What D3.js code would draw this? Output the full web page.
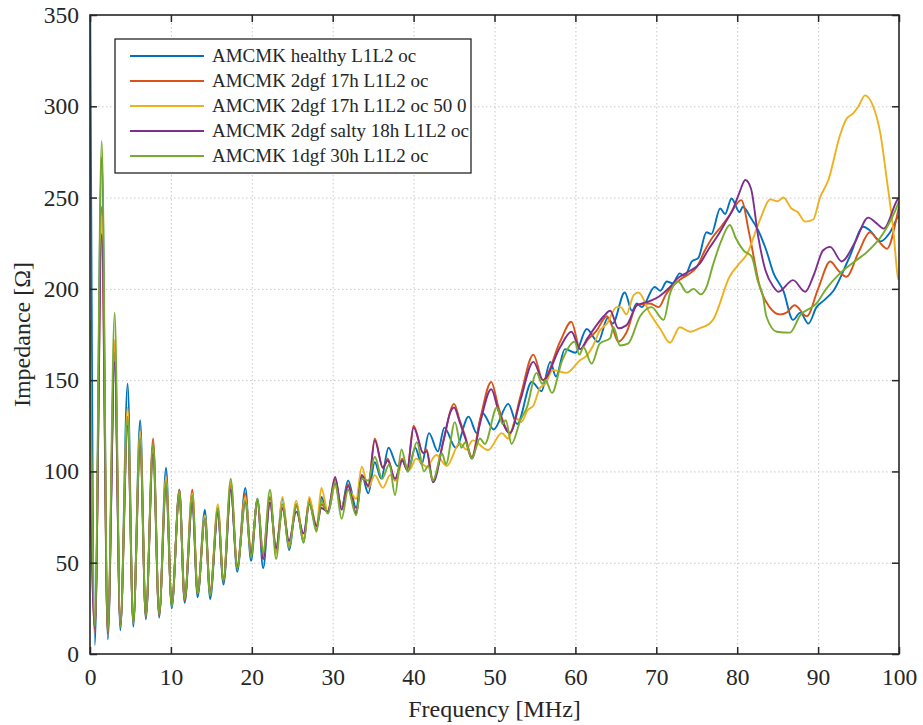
<!DOCTYPE html>
<html>
<head>
<meta charset="utf-8">
<script src="https://cdn.jsdelivr.net/npm/d3@7"></script>
<style>
  body { margin: 0; background: #fff; }
  svg text { font-family: "Liberation Serif", "Times New Roman", serif; fill: #262626; }
</style>
</head>
<body>
<div id="viz"></div>
<script>
const width = 923;
const height = 725;
const marginLeft = 90;
const marginRight = 24;
const marginTop = 15;
const marginBottom = 71;

// axis ticks
const xTicks = [0, 10, 20, 30, 40, 50, 60, 70, 80, 90, 100];
const yTicks = [0, 50, 100, 150, 200, 250, 300, 350];

const seriesNames = [
  'AMCMK healthy L1L2 oc',
  'AMCMK 2dgf 17h L1L2 oc',
  'AMCMK 2dgf 17h L1L2 oc 50 0',
  'AMCMK 2dgf salty 18h L1L2 oc',
  'AMCMK 1dgf 30h L1L2 oc',
];
const seriesColors = ['#0072BD', '#D95319', '#EDB120', '#7E2F8E', '#77AC30'];

// [frequency MHz, impedance Ohm] (peaks and dips)
const healthy = [
  [0, 380], [0.6, 5], [1.45, 272], [2.2, 8], [3.05, 165], [3.75, 13], [4.65, 148], [5.35, 15],
  [6.2, 128], [6.9, 19], [7.8, 115], [8.55, 20], [9.4, 102], [10.1, 25], [11.05, 90], [11.7, 28],
  [12.65, 85], [13.3, 31], [14.2, 79], [14.85, 30], [15.8, 78], [16.5, 38], [17.4, 92], [18.2, 45],
  [19.2, 91], [19.9, 51], [20.7, 85], [21.4, 47], [22.25, 85], [23.0, 56], [23.8, 85], [24.6, 57],
  [25.5, 82], [26.4, 61], [27.1, 85], [28.0, 68], [28.6, 86], [29.4, 77], [30.3, 93], [31.1, 80],
  [31.9, 95], [32.9, 80], [33.6, 98], [34.4, 88], [35.2, 105], [36.0, 96], [36.9, 113], [38.0, 103],
  [38.6, 106], [39.3, 100], [40.2, 113], [41.0, 104], [41.9, 121], [43.0, 111], [43.8, 124], [45.2, 113],
  [46.8, 130], [47.8, 121], [48.5, 132], [49.9, 123], [51.7, 137], [52.8, 126], [54.6, 149], [55.8, 144],
  [56.9, 160], [57.6, 152], [58.7, 167], [60.0, 165], [61.4, 178], [62.8, 171], [64.0, 184], [64.6, 181],
  [66.1, 198], [67.0, 188], [67.6, 192], [68.2, 190], [69.8, 201], [70.5, 199], [71.3, 204], [72.0, 203],
  [72.9, 208.5], [73.5, 207], [74.4, 215], [75.2, 217], [76.2, 231], [76.8, 230], [77.9, 244], [78.5, 241],
  [79.3, 249.5], [80.3, 242], [80.7, 245], [81.6, 239.5], [82.6, 232], [83.6, 221], [84.5, 208.5], [85.7, 199],
  [86.9, 183], [87.8, 187], [88.8, 181], [89.8, 190], [90.8, 194], [91.9, 199], [93.9, 217.6], [95.6, 234],
  [96.4, 232], [97.7, 226], [98.9, 231], [99.9, 239.5], [100, 240],
];

const dgf17h = [
  [0, 120], [0.6, 12], [1.45, 245], [2.2, 12], [3.05, 170], [3.75, 15], [4.65, 130], [5.35, 17],
  [6.2, 118], [6.9, 20], [7.8, 118], [8.55, 21], [9.4, 95], [10.1, 27], [11.05, 90], [11.7, 29],
  [12.65, 90], [13.3, 33], [14.2, 75], [14.85, 33], [15.8, 79], [16.5, 40], [17.4, 92], [18.2, 47],
  [19.2, 88], [19.9, 55], [20.7, 84], [21.4, 55], [22.25, 86], [23.0, 57], [23.8, 80], [24.6, 60],
  [25.5, 81], [26.4, 63], [27.1, 84], [28.0, 70], [28.6, 82], [29.4, 78], [30.3, 96], [31.1, 80],
  [31.9, 93], [32.9, 77], [33.6, 97], [34.4, 92], [35.2, 118], [36.2, 102], [36.8, 107], [37.7, 95],
  [38.6, 107], [39.2, 101], [40.0, 125], [41.2, 110], [41.6, 112], [42.4, 95], [43.7, 117], [45.0, 137],
  [45.7, 128], [46.4, 119], [47.2, 108], [48.2, 128], [49.6, 149], [50.5, 135], [51.9, 121], [53.2, 141],
  [54.8, 164], [56.0, 150], [58.1, 171], [59.5, 182], [60.6, 167], [61.5, 172], [62.6, 177], [63.9, 185],
  [64.5, 180], [65.3, 171], [66.3, 176], [67.6, 191], [69.2, 192], [70.3, 190], [71.2, 197], [72.9, 205],
  [74.0, 208], [75.0, 212], [76.0, 221], [77.0, 228.5], [78.0, 234], [79.0, 240], [80.5, 248.6], [81.5, 230],
  [82.8, 201], [84.0, 190], [85.3, 186], [86.1, 187], [87.1, 191], [88.6, 185], [90.0, 200], [91.5, 215],
  [92.5, 210], [93.5, 206.6], [95.0, 220], [96.4, 231], [97.5, 226], [98.5, 222], [99.9, 243], [100, 245],
];

const dgf17h50 = [
  [0, 160], [0.6, 15], [1.45, 240], [2.2, 10], [3.05, 172], [3.75, 17], [4.65, 135], [5.35, 18],
  [6.2, 122], [6.9, 22], [7.8, 112], [8.55, 22], [9.4, 97], [10.1, 28], [11.05, 88], [11.7, 31],
  [12.65, 88], [13.3, 35], [14.2, 76], [14.85, 34], [15.8, 82], [16.5, 41], [17.4, 94], [18.2, 48],
  [19.2, 86], [19.9, 57], [20.7, 84], [21.4, 52], [22.25, 84], [23.0, 55], [23.8, 86], [24.6, 59],
  [25.5, 84], [26.4, 62], [27.1, 86], [28.0, 69], [28.6, 91], [29.4, 78], [30.3, 92], [31.1, 80],
  [31.9, 90], [32.9, 85], [33.6, 102.6], [34.4, 91], [35.2, 98], [36.2, 91], [37.1, 98], [37.9, 95],
  [38.6, 106], [39.5, 101], [40.3, 107], [41.6, 102.6], [42.8, 109], [44.1, 103], [45.7, 115.5], [46.5, 112],
  [47.3, 117], [49.2, 111.7], [50.9, 121], [51.7, 118], [52.7, 129], [53.3, 127], [54.1, 133.6], [54.8, 136],
  [55.6, 145.6], [56.3, 148], [57.2, 155.5], [58.9, 154], [60.6, 161], [61.3, 163], [62.2, 169], [63.0, 177],
  [63.9, 181], [65.1, 190], [65.6, 190], [66.3, 186], [67.2, 196.6], [67.8, 198], [69.2, 186.6], [70.5, 178],
  [71.7, 170.5], [72.9, 179], [74.2, 176.5], [75.4, 178.5], [76.6, 181], [77.0, 183], [79.1, 207], [80.1, 213],
  [81.2, 219], [82.8, 237.7], [84.1, 249], [85.0, 248], [85.7, 250], [86.7, 244], [87.5, 242], [88.4, 236.8],
  [89.4, 238], [90.2, 249.5], [91.3, 260], [92.7, 284], [93.5, 293], [94.3, 296], [95.0, 300], [95.8, 306],
  [96.8, 300], [97.7, 285], [98.5, 259.6], [99.3, 232], [99.9, 205.7], [100, 205],
];

const dgfSalty = [
  [0, 100], [0.6, 14], [1.45, 230], [2.2, 11], [3.05, 160], [3.75, 16], [4.65, 125], [5.35, 18],
  [6.2, 115], [6.9, 21], [7.8, 110], [8.55, 22], [9.4, 92], [10.1, 27], [11.05, 88], [11.7, 30],
  [12.65, 83], [13.3, 33], [14.2, 74], [14.85, 33], [15.8, 77], [16.5, 40], [17.4, 90], [18.2, 48],
  [19.2, 83], [19.9, 55], [20.7, 84], [21.4, 52], [22.25, 83], [23.0, 58], [23.8, 80], [24.6, 62],
  [25.5, 78], [26.4, 66], [27.1, 82], [28.0, 70], [28.6, 80], [29.4, 78], [30.3, 97], [31.1, 79],
  [31.9, 92], [32.9, 77], [33.6, 98], [34.4, 92], [35.2, 117], [36.2, 102], [36.8, 106], [37.7, 96],
  [38.6, 106], [39.2, 101], [40.0, 124], [41.2, 110], [41.6, 111], [42.4, 94], [43.7, 117], [44.5, 132],
  [45.0, 135], [45.7, 127], [46.4, 118], [47.2, 107], [48.2, 126], [49.6, 145], [50.5, 133], [51.9, 121],
  [53.2, 139], [54.8, 160], [56.0, 150], [58.1, 168], [59.5, 176.5], [60.6, 167], [61.5, 173], [62.6, 180],
  [63.5, 185], [64.3, 188], [65.3, 178.4], [66.3, 180], [67.6, 191], [69.0, 193], [70.3, 195.7], [71.7, 201],
  [72.7, 206], [73.8, 209], [75.4, 214], [76.5, 222], [77.5, 228.5], [78.5, 236], [79.5, 244], [80.3, 253],
  [81.0, 259.6], [81.7, 255], [82.6, 228.5], [83.5, 210], [84.5, 201], [85.1, 198.4], [86.9, 204.8], [88.4, 198.4],
  [89.5, 208], [90.6, 221], [91.5, 223], [92.9, 215], [94.5, 225], [96.2, 239], [97.2, 236], [98.1, 233],
  [99.9, 249.5], [100, 250],
];

const dgf30h = [
  [0, 183], [0.6, 15], [1.45, 281], [2.2, 12], [3.05, 187], [3.75, 15], [4.65, 130], [5.35, 17],
  [6.2, 118], [6.9, 21], [7.8, 115], [8.55, 22], [9.4, 94], [10.1, 26], [11.05, 89], [11.7, 30],
  [12.65, 87], [13.3, 33], [14.2, 74], [14.85, 32], [15.8, 80], [16.5, 40], [17.4, 96], [18.2, 47],
  [19.2, 84], [19.9, 53], [20.7, 85], [21.4, 55], [22.25, 90], [23.0, 52], [23.8, 82], [24.6, 58],
  [25.5, 82], [26.4, 61], [27.1, 83], [28.0, 67], [28.6, 84], [29.4, 77], [30.3, 94], [31.1, 74],
  [31.9, 90], [32.9, 76], [33.6, 96], [34.4, 95], [35.2, 108], [36.1, 96], [37.0, 104], [37.7, 87],
  [38.5, 112], [39.3, 100], [40.4, 116], [41.3, 100], [41.8, 103], [42.4, 95], [43.5, 110], [44.0, 104],
  [45.1, 127], [45.9, 113], [46.4, 116], [47.2, 107], [48.2, 118], [48.8, 115], [50.3, 135], [51.0, 126],
  [51.4, 128], [52.1, 115], [53.2, 128], [54.0, 135], [55.2, 154], [55.9, 148], [56.3, 150], [57.1, 143],
  [58.3, 160], [59.9, 171], [60.5, 164], [61.0, 168], [62.0, 159], [63.0, 170], [64.3, 173], [64.7, 179],
  [65.5, 169], [66.5, 170], [68.0, 185], [69.4, 190], [70.9, 183], [71.7, 197.5], [72.7, 204], [73.8, 198],
  [74.6, 200], [75.5, 197], [76.2, 201], [77.0, 213], [78.0, 226], [79.1, 235], [79.8, 228], [80.8, 221],
  [81.8, 217.6], [82.5, 205], [83.2, 195.7], [83.6, 185], [84.9, 176.5], [86.5, 176], [87.8, 185.6], [89.8, 192],
  [91.0, 200], [92.7, 208.5], [94.5, 215], [96.0, 220], [98.0, 230], [99.9, 246.8], [100, 248],
];

const seriesData = [healthy, dgf17h, dgf17h50, dgfSalty, dgf30h];

const svg = d3
  .select('#viz')
  .append('svg')
  .attr('width', width)
  .attr('height', height);

const xScale = d3
  .scaleLinear()
  .domain([0, 100])
  .range([marginLeft, width - marginRight]);

const yScale = d3
  .scaleLinear()
  .domain([0, 350])
  .range([height - marginBottom, marginTop]);

const x0 = xScale.range()[0];
const x1 = xScale.range()[1];
const y0 = yScale.range()[0];
const y1 = yScale.range()[1];

// grid, dotted like matlab
const grid = svg.append('g').attr('stroke', '#c8c8c8').attr('stroke-width', 1)
  .attr('stroke-dasharray', '1.5,2.5');
grid.selectAll('.vx')
  .data(xTicks.slice(1, -1))
  .enter()
  .append('line')
  .attr('x1', (d) => xScale(d) + 0.5)
  .attr('x2', (d) => xScale(d) + 0.5)
  .attr('y1', y1)
  .attr('y2', y0);
grid.selectAll('.hy')
  .data(yTicks.slice(1, -1))
  .enter()
  .append('line')
  .attr('x1', x0)
  .attr('x2', x1)
  .attr('y1', (d) => yScale(d) + 0.5)
  .attr('y2', (d) => yScale(d) + 0.5);

svg.append('clipPath')
  .attr('id', 'plotclip')
  .append('rect')
  .attr('x', x0)
  .attr('y', y1)
  .attr('width', x1 - x0)
  .attr('height', y0 - y1);

const line = d3
  .line()
  .x((d) => xScale(d[0]))
  .y((d) => yScale(d[1]))
  .curve(d3.curveMonotoneX);

svg.append('g')
  .attr('clip-path', 'url(#plotclip)')
  .selectAll('path')
  .data(seriesData)
  .enter()
  .append('path')
  .attr('fill', 'none')
  .attr('stroke', (d, i) => seriesColors[i])
  .attr('stroke-width', 1.9)
  .attr('stroke-linejoin', 'round')
  .attr('d', line);

// axes with inward ticks on all four sides
const tickLen = 7;
const styleAxis = (g) => {
  g.select('.domain').remove();
  g.selectAll('.tick line').attr('stroke', '#262626').attr('stroke-width', 1.5);
  g.selectAll('.tick text').attr('fill', '#262626').style('font-size', '23.5px')
    .style('font-family', '"Liberation Serif", serif');
};

svg.append('g')
  .attr('transform', `translate(0, ${y0})`)
  .call(d3.axisBottom(xScale).tickValues(xTicks).tickFormat(d3.format('d'))
    .tickSizeInner(-tickLen).tickSizeOuter(0).tickPadding(14))
  .call(styleAxis);

svg.append('g')
  .attr('transform', `translate(0, ${y1})`)
  .call(d3.axisTop(xScale).tickValues(xTicks).tickFormat('').tickSizeInner(-tickLen).tickSizeOuter(0))
  .call(styleAxis);

svg.append('g')
  .attr('transform', `translate(${x0}, 0)`)
  .call(d3.axisLeft(yScale).tickValues(yTicks).tickFormat(d3.format('d'))
    .tickSizeInner(-tickLen).tickSizeOuter(0).tickPadding(11))
  .call(styleAxis);

svg.append('g')
  .attr('transform', `translate(${x1}, 0)`)
  .call(d3.axisRight(yScale).tickValues(yTicks).tickFormat('').tickSizeInner(-tickLen).tickSizeOuter(0))
  .call(styleAxis);

// the box
svg.append('rect')
  .attr('x', x0)
  .attr('y', y1)
  .attr('width', x1 - x0)
  .attr('height', y0 - y1)
  .attr('fill', 'none')
  .attr('stroke', '#262626')
  .attr('stroke-width', 1.6);

// axis labels
svg.append('text')
  .attr('x', (x0 + x1) / 2)
  .attr('y', 717)
  .attr('text-anchor', 'middle')
  .style('font-size', '24px')
  .text('Frequency [MHz]');

svg.append('text')
  .attr('transform', `translate(30, ${(y0 + y1) / 2}) rotate(-90)`)
  .attr('text-anchor', 'middle')
  .style('font-size', '24px')
  .text('Impedance [Ω]');

// legend
const legendX = 115;
const legendY = 39;
const legendW = 356;
const legendH = 134;
const legend = svg.append('g');
legend.append('rect')
  .attr('x', legendX)
  .attr('y', legendY)
  .attr('width', legendW)
  .attr('height', legendH)
  .attr('fill', '#fff')
  .attr('stroke', '#262626')
  .attr('stroke-width', 1.3);

const rows = legend.selectAll('.row')
  .data(seriesNames)
  .enter()
  .append('g')
  .attr('transform', (d, i) => `translate(${legendX}, ${legendY + 17 + i * 25})`);
rows.append('line')
  .attr('x1', 15)
  .attr('x2', 89)
  .attr('stroke', (d, i) => seriesColors[i])
  .attr('stroke-width', 2);
rows.append('text')
  .attr('x', 97)
  .attr('dy', '0.34em')
  .style('font-size', '19px')
  .text((d) => d);
</script>
</body>
</html>
